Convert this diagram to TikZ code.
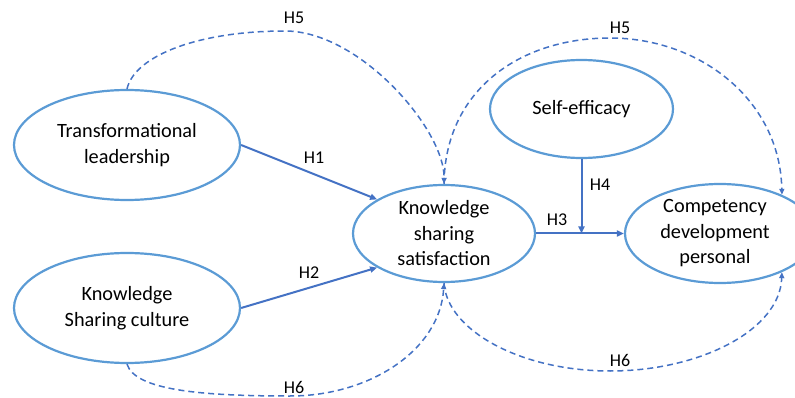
\documentclass[tikz,border=0pt]{standalone}
\usepackage{fontspec}
\setmainfont{Carlito}
\usetikzlibrary{shapes.geometric,arrows.meta}
\definecolor{ring}{HTML}{5B9BD5}
\definecolor{link}{HTML}{4472C4}
\newcommand{\cdpnudge}{\hspace*{-10pt}}
\begin{document}
\begin{tikzpicture}[x=1pt,y=-1pt,
  construct/.style={draw=ring, line width=2.2pt, ellipse, inner sep=-8pt,
    align=center, font=\fontsize{20.3}{25.5}\selectfont},
  solidlink/.style={draw=link, line width=2pt, -{Triangle[length=7pt,width=6pt]}},
  dashlink/.style={draw=link, line width=1.5pt, dash pattern=on 6pt off 4pt,
    -{Triangle[length=6pt,width=5pt]}},
  hlabel/.style={font=\fontsize{18}{20}\selectfont, inner sep=0pt}]
\useasboundingbox (0,0) rectangle (795,398);
\clip (0,0) rectangle (795,398);

% constructs
\node[construct, minimum width=226pt, minimum height=110pt] (tl) at (127,145)
  {Transformational\\leadership};
\node[construct, minimum width=226pt, minimum height=110pt] (ksc) at (127,308)
  {Knowledge\\Sharing culture};
\node[construct, minimum width=182pt, minimum height=97pt] (kss) at (444,233.5)
  {Knowledge\\sharing\\satisfaction};
\node[construct, minimum width=183pt, minimum height=98pt] (se) at (581.5,109)
  {Self-efficacy};
\node[construct, minimum width=190pt, minimum height=99pt] (cdp) at (720,233.5)
  {\cdpnudge Competency\\\cdpnudge development\\\cdpnudge personal};

% direct paths
\draw[solidlink] (tl.east) -- (kss.153);
\draw[solidlink] (ksc.east) -- (kss.207);
\draw[solidlink] (kss.east) -- (cdp.west);
\coordinate (mod) at (se.south |- kss.east);
\draw[solidlink] (se.south) -- (mod);

% mediation paths
\draw[dashlink] (tl.north) .. controls (135,55) and (200,31) .. (285,31)
  .. controls (360,31) and (445,130) .. (kss.north);
\draw[dashlink] (kss.north) .. controls (445,90) and (520,38) .. (610,38)
  .. controls (700,38) and (780,100) .. (cdp.32);
\draw[dashlink] (ksc.south) .. controls (135,390) and (200,396) .. (290,396)
  .. controls (370,396) and (440,350) .. (kss.south);
\draw[dashlink] (kss.south) .. controls (447,330) and (520,371) .. (610,371)
  .. controls (700,371) and (780,330) .. (cdp.-32);

% hypothesis labels
\node[hlabel] (h1) at (314,158) {H1};
\node[hlabel] (h2) at (309,273) {H2};
\node[hlabel] (h3) at (557,220) {H3};
\node[hlabel] (h4) at (600,185) {H4};
\node[hlabel] (h5a) at (294,18) {H5};
\node[hlabel] (h5b) at (620,28) {H5};
\node[hlabel] (h6a) at (294,387) {H6};
\node[hlabel] (h6b) at (620,360) {H6};
\end{tikzpicture}
\end{document}
